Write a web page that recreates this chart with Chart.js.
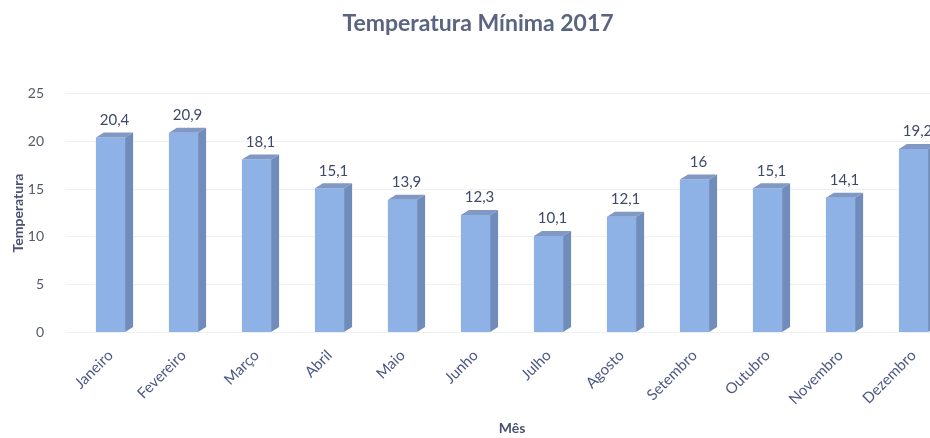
<!DOCTYPE html>
<html>
<head>
<meta charset="utf-8">
<script src="https://cdn.jsdelivr.net/npm/chart.js@4/dist/chart.umd.min.js"></script>
<style>
  html, body { margin: 0; padding: 0; background: #fff; overflow: hidden; }
  #wrap { width: 972px; height: 438px; }
</style>
</head>
<body>
<div id="wrap"><canvas id="grafico"></canvas></div>
<script>
// Temperatura minima por mes (2017)
const meses = ['Janeiro', 'Fevereiro', 'Março', 'Abril', 'Maio', 'Junho', 'Julho', 'Agosto', 'Setembro', 'Outubro', 'Novembro', 'Dezembro'];
const temperaturas = [20.4, 20.9, 18.1, 15.1, 13.9, 12.3, 10.1, 12.1, 16, 15.1, 14.1, 19.2];
const ticksY = [0, 5, 10, 15, 20, 25];

const fonte = 'Lato, "Open Sans", sans-serif';

// desenha lado e topo das barras para parecer 3D, e os rótulos
const barras3d = {
    id: 'barras3d',
    afterDatasetsDraw(chart) {
        const ctx = chart.ctx;
        const meta = chart.getDatasetMeta(0);
        const d = 8, dy = 5;
        ctx.save();
        meta.data.forEach((bar, i) => {
            const p = bar.getProps(['x', 'y', 'base', 'width'], true);
            const l = p.x - p.width / 2, r = p.x + p.width / 2;
            // lado
            ctx.fillStyle = '#6f8cbb';
            ctx.beginPath();
            ctx.moveTo(r, p.y);
            ctx.lineTo(r + d, p.y - dy);
            ctx.lineTo(r + d, p.base - dy);
            ctx.lineTo(r, p.base);
            ctx.closePath();
            ctx.fill();
            // topo
            ctx.fillStyle = '#8197c4';
            ctx.beginPath();
            ctx.moveTo(l, p.y);
            ctx.lineTo(l + d, p.y - dy);
            ctx.lineTo(r + d, p.y - dy);
            ctx.lineTo(r, p.y);
            ctx.closePath();
            ctx.fill();
            // rótulo
            ctx.fillStyle = '#3f4a6a';
            ctx.font = '15px ' + fonte;
            ctx.textAlign = 'center';
            ctx.textBaseline = 'bottom';
            ctx.fillText(String(temperaturas[i]).replace('.', ','), p.x + d / 2, p.y - dy - 5);
        });
        ctx.restore();
    }
};

new Chart(document.getElementById('grafico'), {
    type: 'bar',
    data: {
        labels: meses,
        datasets: [{
            label: 'Temperatura',
            data: temperaturas,
            backgroundColor: '#8fb2e6',
            borderWidth: 0,
            categoryPercentage: 1,
            barPercentage: 0.4
        }]
    },
    options: {
        responsive: true,
        maintainAspectRatio: false,
        animation: false,
        layout: { padding: { left: 6, right: 22, top: 0, bottom: 0 } },
        plugins: {
            legend: { display: false },
            tooltip: { enabled: false },
            title: {
                display: true,
                text: 'Temperatura Mínima 2017',
                color: '#5a6380',
                font: { family: fonte, size: 23, weight: 'bold' },
                padding: { top: 10, bottom: 56 }
            }
        },
        scales: {
            x: {
                grid: { display: false },
                border: { display: false },
                ticks: {
                    color: '#4d5883',
                    font: { family: fonte, size: 15 },
                    minRotation: 45,
                    maxRotation: 45,
                    padding: 6
                },
                title: {
                    display: true,
                    text: 'Mês',
                    color: '#4a5270',
                    font: { family: fonte, size: 14, weight: 'bold' },
                    padding: { top: 6, bottom: 1 }
                }
            },
            y: {
                min: 0,
                max: 25,
                afterBuildTicks(axis) { axis.ticks = ticksY.map(v => ({ value: v })); },
                afterFit(axis) { axis.width = 68; },
                grid: { color: '#f0f0f0' },
                border: { display: false },
                ticks: {
                    color: '#555a6a',
                    font: { family: fonte, size: 14 },
                    padding: 22
                },
                title: {
                    display: true,
                    text: 'Temperatura',
                    color: '#4a5270',
                    font: { family: fonte, size: 14, weight: 'bold' },
                    padding: { bottom: 4 }
                }
            }
        }
    },
    plugins: [barras3d]
});
</script>
</body>
</html>
